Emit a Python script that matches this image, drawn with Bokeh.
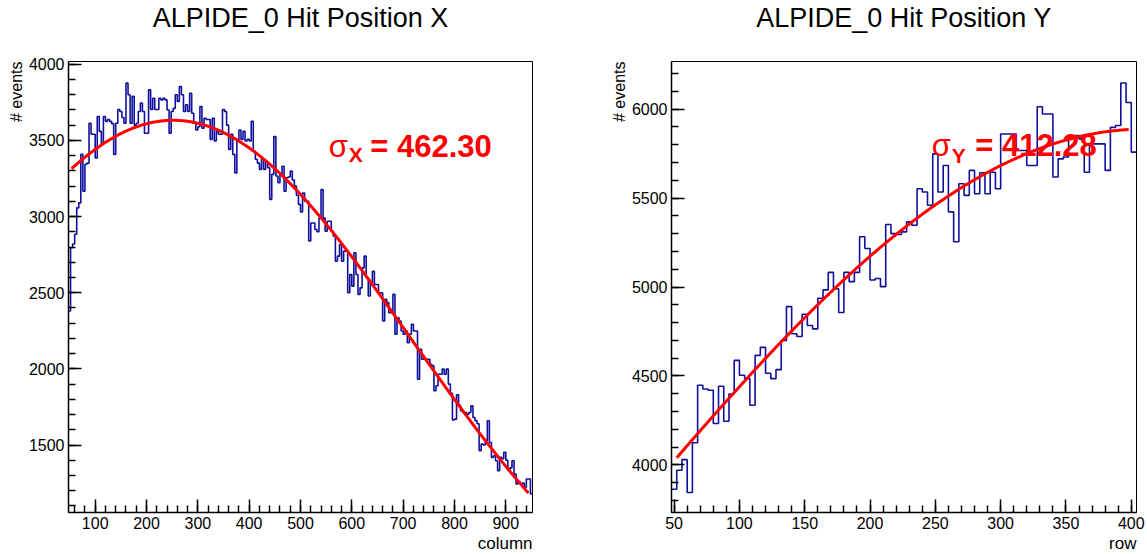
import numpy as np
from bokeh.plotting import figure
from bokeh.models import Range1d, SingleIntervalTicker, Title
from bokeh.layouts import row
from bokeh.core.properties import value
from bokeh.embed import file_html
from bokeh.resources import INLINE

# ---- hit position X (columns), 4-column bins from 48 to 952 ----
x_bin_lo, x_bin_w = 48, 4
x_counts = [
    2380, 2795, 2820, 2884, 3057, 3090, 3408, 3166, 3343, 3351,
    3613, 3540, 3540, 3384, 3657, 3559, 3474, 3657, 3625, 3637,
    3625, 3610, 3408, 3613, 3703, 3690, 3650, 3613, 3876, 3800,
    3613, 3790, 3600, 3613, 3690, 3745, 3690, 3547, 3547, 3832,
    3703, 3777, 3703, 3703, 3777, 3766, 3777, 3766, 3700, 3547,
    3690, 3710, 3800, 3756, 3854, 3800, 3690, 3734, 3690, 3810,
    3678, 3613, 3568, 3590, 3722, 3580, 3645, 3637, 3637, 3507,
    3645, 3496, 3559, 3540, 3540, 3703, 3690, 3600, 3441, 3540,
    3408, 3286, 3500, 3568, 3507, 3559, 3496, 3507, 3496, 3625,
    3430, 3376, 3351, 3310, 3376, 3310, 3360, 3320, 3113, 3277,
    3525, 3266, 3222, 3280, 3330, 3166, 3255, 3260, 3298, 3240,
    3200, 3140, 3080, 3030, 3155, 3100, 3100, 2840, 2958, 2958,
    2915, 2900, 2990, 3177, 2990, 2904, 2969, 2969, 2904, 2871,
    2707, 2740, 2817, 2707, 2773, 2773, 2500, 2620, 2543, 2762,
    2620, 2489, 2532, 2663, 2740, 2598, 2478, 2565, 2640, 2554,
    2554, 2500, 2500, 2314, 2456, 2435, 2369, 2369, 2489, 2227,
    2336, 2314, 2249, 2227, 2249, 2172, 2227, 2293, 2249, 2249,
    1932, 2129, 2063, 2063, 2063, 2063, 2030, 2020, 1856, 1889,
    1965, 1965, 1998, 1965, 1998, 1900, 1840, 1665, 1670, 1830,
    1760, 1724, 1714, 1714, 1700, 1714, 1757, 1681, 1660, 1640,
    1463, 1506, 1500, 1530, 1659, 1517, 1419, 1430, 1397, 1332,
    1419, 1410, 1452, 1400, 1332, 1350, 1397, 1310, 1245, 1260,
    1245, 1250, 1222, 1277, 1277, 1179,
]
# Gaussian fit to the X profile
x_fit_amp, x_fit_mean, x_fit_sigma = 3632.0, 252.0, 462.30
x_fit_range = (54, 944)

# ---- hit position Y (rows), 4-row bins from 48 to 404 ----
y_bin_lo, y_bin_w = 48, 4
y_counts = [
    3864, 3970, 4030, 3845, 4125, 4448, 4427, 4420, 4233, 4442,
    4246, 4399, 4588, 4504, 4485, 4336, 4616, 4661, 4515, 4485,
    4536, 4700, 4890, 4737, 4722, 4847, 4784, 4765, 4937, 4984,
    5082, 4990, 4857, 5082, 5030, 5082, 5282, 5216, 5039, 5048,
    5002, 5351, 5300, 5295, 5310, 5366, 5347, 5552, 5534, 5459,
    5748, 5534, 5683, 5422, 5254, 5580, 5515, 5655, 5524, 5642,
    5524, 5645, 5552, 5860, 5860, 5860, 5767, 5767, 5683, 5683,
    6013, 5972, 5972, 5618, 5720, 5730, 5851, 5851, 5832, 5645,
    5804, 5804, 5804, 5655, 5897, 5907, 6146, 6037, 5758,
]
# Gaussian fit to the Y profile
y_fit_amp, y_fit_mean, y_fit_sigma = 5887.0, 409.7, 412.28
y_fit_range = (52, 398)

FONT = "Liberation Sans"
HIST_COLOR = "#10109c"
FIT_COLOR = "#ff0000"


def gaussian(x, amp, mean, sigma):
    return amp * np.exp(-0.5 * ((x - mean) / sigma) ** 2)


def outline(lo, width, counts):
    """Step outline of a histogram: edges doubled, counts doubled."""
    counts = np.asarray(counts, dtype=float)
    edges = lo + width * np.arange(len(counts) + 1)
    xs = np.repeat(edges, 2)[1:-1]
    ys = np.repeat(counts, 2)
    return xs, ys


def panel(title, xlabel, x_range, y_range, x_major, lo, width, counts,
          fit, fit_range, sub, sigma_pos, sub_pos, eq_pos, canvas_w,
          border_left, border_right):
    p = figure(width=canvas_w, height=554, output_backend="svg",
               toolbar_location=None, x_range=Range1d(*x_range),
               y_range=Range1d(*y_range), min_border_left=border_left,
               min_border_right=border_right, min_border_top=60,
               min_border_bottom=42)
    p.background_fill_color = "white"
    p.border_fill_color = "white"
    p.grid.visible = False
    p.outline_line_color = "black"
    p.outline_line_width = 1

    # a blank second line keeps the title clear of the frame
    p.title.text = title + "\n\u00a0"
    p.title.align = "center"
    p.title.text_font = FONT
    p.title.text_font_size = "27px"
    p.title.text_font_style = "normal"
    p.title.text_color = "black"
    p.title.text_line_height = 0.95
    p.title.standoff = 0

    p.xaxis.ticker = SingleIntervalTicker(interval=x_major, num_minor_ticks=5)
    p.yaxis.ticker = SingleIntervalTicker(interval=500, num_minor_ticks=5)
    for ax in (p.xaxis, p.yaxis):
        ax.major_tick_in = 13
        ax.major_tick_out = 0
        ax.minor_tick_in = 7
        ax.minor_tick_out = 0
        ax.axis_line_width = 1.5
        ax.major_tick_line_width = 1.5
        ax.minor_tick_line_width = 1.5
        ax.major_label_text_font = FONT
        ax.major_label_text_color = "black"
    p.xaxis.major_label_text_font_size = "16px"
    p.yaxis.major_label_text_font_size = "16px"
    p.xaxis.major_label_standoff = 4
    p.yaxis.major_label_standoff = 4

    p.add_layout(Title(text=xlabel, align="right", text_font=FONT,
                       text_font_size="17px", text_font_style="normal",
                       text_color="black", standoff=0, offset=0), "below")
    p.add_layout(Title(text="# events", align="right", text_font=FONT,
                       text_font_size="16px", text_font_style="normal",
                       text_color="black", standoff=2, offset=0), "left")

    xs, ys = outline(lo, width, counts)
    p.line(xs, ys, line_color=HIST_COLOR, line_width=1.6)

    fx = np.linspace(fit_range[0], fit_range[1], 400)
    p.line(fx, gaussian(fx, *fit), line_color=FIT_COLOR, line_width=3)

    sigma_text = "%.2f" % fit[2]
    p.text(x=[sigma_pos[0]], y=[sigma_pos[1]], text=["σ"],
           text_font=value(FONT), text_font_size="31px",
           text_color=FIT_COLOR, text_baseline="alphabetic")
    p.text(x=[sub_pos[0]], y=[sub_pos[1]], text=[sub],
           text_font=value(FONT), text_font_size="21px",
           text_font_style="bold", text_color=FIT_COLOR,
           text_baseline="alphabetic")
    p.text(x=[eq_pos[0]], y=[eq_pos[1]], text=["= " + sigma_text],
           text_font=value(FONT), text_font_size="31px",
           text_font_style="bold", text_color=FIT_COLOR,
           text_baseline="alphabetic")
    return p


left = panel("ALPIDE_0 Hit Position X", "column", (48, 952), (1057, 4018),
             100, x_bin_lo, x_bin_w, x_counts,
             (x_fit_amp, x_fit_mean, x_fit_sigma), x_fit_range, "X",
             (555, 3461), (594, 3408), (636, 3461), 573, 68, 41)
right = panel("ALPIDE_0 Hit Position Y", "row", (48, 404), (3733, 6267),
              50, y_bin_lo, y_bin_w, y_counts,
              (y_fit_amp, y_fit_mean, y_fit_sigma), y_fit_range, "Y",
              (247.3, 5795), (262.6, 5741), (280.5, 5795), 574, 98, 11)

layout = row(left, right)
open("out.html", "w").write(file_html(layout, INLINE))
